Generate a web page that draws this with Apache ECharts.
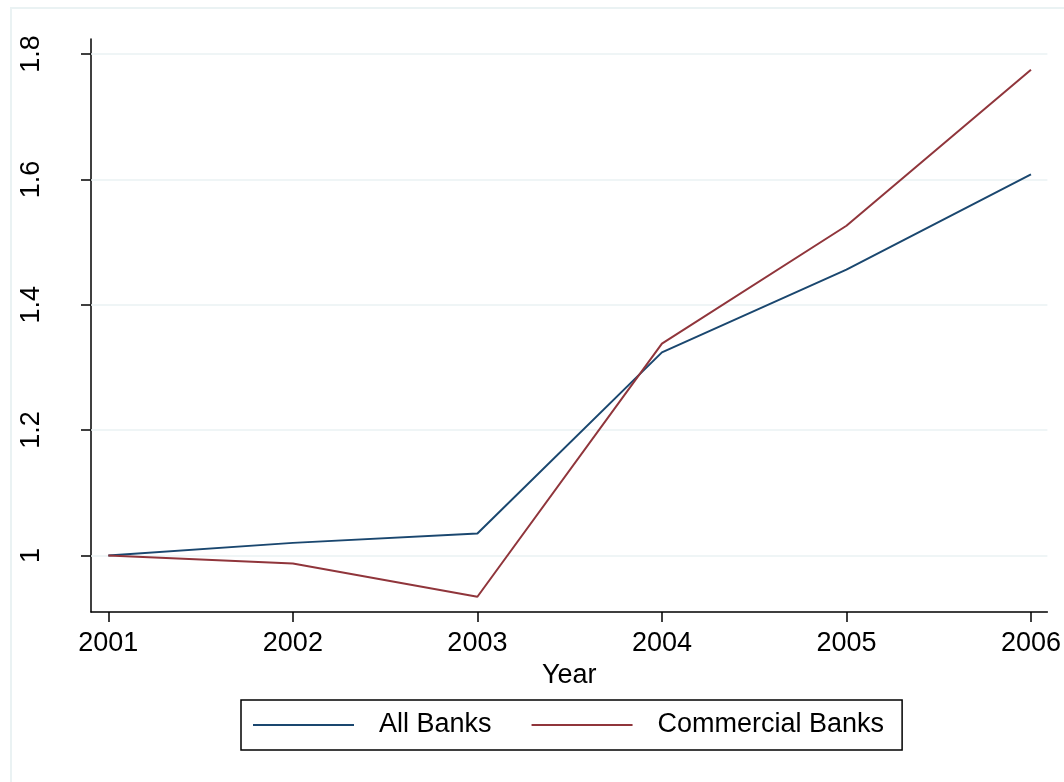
<!DOCTYPE html>
<html>
<head>
<meta charset="utf-8">
<script src="https://cdn.jsdelivr.net/npm/echarts@6/dist/echarts.min.js"></script>
<style>
html,body{margin:0;padding:0;background:#fff;}
#chart{width:1064px;height:782px;}
</style>
</head>
<body>
<div id="chart"></div>
<script>
var years = [2001, 2002, 2003, 2004, 2005, 2006];
var allBanks = [1.000, 1.020, 1.035, 1.324, 1.456, 1.608];
var commercialBanks = [1.000, 0.987, 0.934, 1.338, 1.526, 1.775];
var yTicks = [1, 1.2, 1.4, 1.6, 1.8];
var xTicks = [2001, 2002, 2003, 2004, 2005, 2006];
var seriesNames = ['All Banks', 'Commercial Banks'];

var FONT = "'Liberation Sans', Arial, sans-serif";
var chart = echarts.init(document.getElementById('chart'), null, {renderer: 'canvas'});

function pairs(vals) {
  return years.map(function (y, i) { return [y, vals[i]]; });
}

var option = {
  backgroundColor: '#ffffff',
  animation: false,
  textStyle: {fontFamily: FONT},
  graphic: [{
    type: 'rect',
    z: -10,
    silent: true,
    shape: {x: 11, y: 8, width: 1200, height: 900},
    style: {fill: 'none', stroke: '#eaf2f3', lineWidth: 2}
  }],
  grid: {left: 91, top: 39, right: 12, bottom: 170, containLabel: false},
  xAxis: {
    type: 'value',
    min: 2000.906,
    max: 2006.089,
    name: 'Year',
    nameLocation: 'middle',
    nameGap: 44,
    nameTextStyle: {fontSize: 27, color: '#000', fontFamily: FONT},
    axisLine: {show: true, onZero: false, lineStyle: {color: '#000', width: 1.5}},
    axisTick: {show: true, inside: false, length: 10, customValues: xTicks, lineStyle: {color: '#000', width: 1.5}},
    axisLabel: {show: true, customValues: xTicks, margin: 18, fontSize: 27, color: '#000', fontFamily: FONT,
      formatter: function (v) { return String(Math.round(v)); }},
    splitLine: {show: false}
  },
  yAxis: {
    type: 'value',
    min: 0.9097,
    max: 1.824,
    axisLine: {show: true, onZero: false, lineStyle: {color: '#000', width: 1.5}},
    axisTick: {show: true, inside: false, length: 10, customValues: yTicks, lineStyle: {color: '#000', width: 1.5}},
    axisLabel: {show: true, customValues: yTicks, rotate: 90, margin: 46, fontSize: 27, color: '#000', fontFamily: FONT,
      formatter: function (v) { return String(Math.round(v * 10) / 10); }},
    splitLine: {show: false}
  },
  legend: {
    left: 241,
    top: 700,
    orient: 'horizontal',
    data: seriesNames,
    icon: 'rect',
    itemWidth: 101,
    itemHeight: 2,
    itemGap: 40,
    padding: [10, 18, 10, 12],
    borderColor: '#000',
    borderWidth: 1.5,
    borderRadius: 0,
    backgroundColor: '#fff',
    textStyle: {fontSize: 27, color: '#000', fontFamily: FONT, padding: [0, 0, 0, 20], lineHeight: 30}
  },
  series: [
    {
      name: seriesNames[0],
      type: 'line',
      symbol: 'none',
      data: pairs(allBanks),
      lineStyle: {color: '#1a476f', width: 2},
      itemStyle: {color: '#1a476f'},
      z: 3,
      markLine: {
        silent: true,
        symbol: ['none', 'none'],
        label: {show: false},
        lineStyle: {color: '#eaf2f3', width: 1.5, type: 'solid'},
        data: yTicks.map(function (t) { return {yAxis: t}; }),
        z: 1
      }
    },
    {
      name: seriesNames[1],
      type: 'line',
      symbol: 'none',
      data: pairs(commercialBanks),
      lineStyle: {color: '#90353b', width: 2},
      itemStyle: {color: '#90353b'},
      z: 4
    }
  ]
};
chart.setOption(option);
</script>
</body>
</html>
